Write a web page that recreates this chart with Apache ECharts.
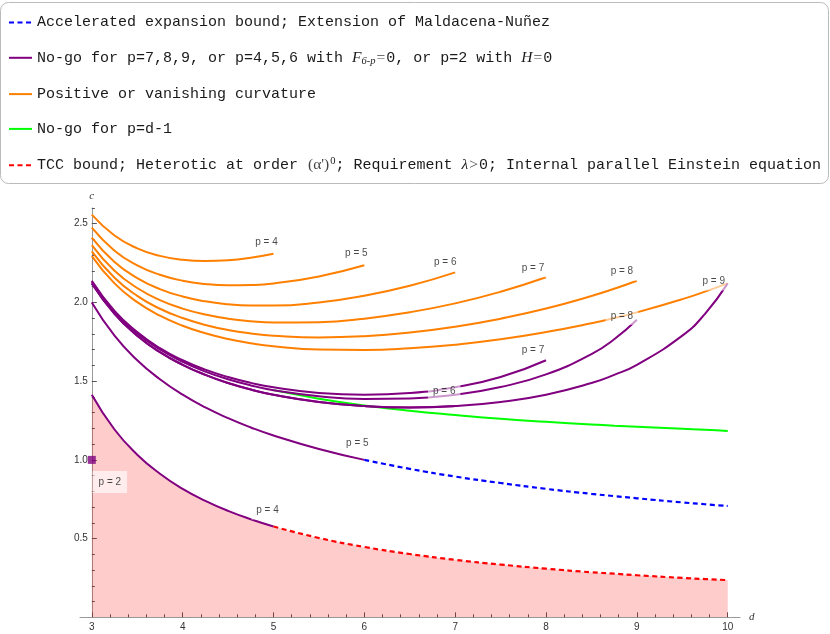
<!DOCTYPE html>
<html><head><meta charset="utf-8">
<script src="https://cdn.jsdelivr.net/npm/echarts@6.0.0/dist/echarts.min.js"></script>
<style>html,body{margin:0;padding:0;background:#fff}#chart{width:830px;height:634px}</style>
</head><body><div id="chart"></div>
<script>
// ---- data (d = dimension, c = bound) ----
const dGrid = [3,3.25,3.5,3.75,4,4.25,4.5,4.75,5,5.5,6,6.5,7,7.5,8,8.5,8.75,9,9.5,9.75,10];
const tccBound   = [1.414,1.193,1.033,0.912,0.816,0.740,0.676,0.623,0.577,0.504,0.447,0.402,0.365,0.335,0.309,0.286,0.277,0.267,0.250,0.243,0.236];
const accelBound = [2.000,1.789,1.633,1.512,1.414,1.333,1.265,1.206,1.155,1.069,1.000,0.943,0.894,0.853,0.816,0.784,0.770,0.756,0.730,0.718,0.707];
const nogoP6P9   = [2.121,1.928,1.789,1.684,1.604,1.540,1.488,1.447,1.414,1.368,1.342,1.333,1.342,1.368,1.414,1.488,1.540,1.604,1.789,1.928,2.121];
const nogoP7     = [2.138,1.947,1.812,1.710,1.633,1.573,1.526,1.489,1.461,1.425,1.414,1.425,1.461,1.526,1.633];
const nogoP8     = [2.132,1.940,1.803,1.701,1.622,1.561,1.512,1.473,1.443,1.404,1.387,1.390,1.414,1.463,1.543,1.672,1.766,1.890];
const nogoPdm1   = [null,null,null,null,null,null,null,null,1.443,1.389,1.346,1.312,1.285,1.261,1.242,1.225,1.217,1.210,1.197,1.191,1.183];
const curvP4 = [2.558,2.425,2.344,2.296,2.271,2.263,2.268,2.284,2.309];
const curvP5 = [2.475,2.329,2.236,2.176,2.138,2.117,2.109,2.111,2.121,2.165,2.236];
const curvP6 = [2.412,2.257,2.155,2.085,2.038,2.007,1.989,1.981,1.980,2.000,2.043,2.106,2.191];
const curvP7 = [2.364,2.201,2.092,2.015,1.961,1.923,1.897,1.881,1.873,1.875,1.897,1.938,1.994,2.068,2.160];
const curvP8 = [2.325,2.157,2.042,1.960,1.901,1.857,1.825,1.803,1.789,1.778,1.786,1.809,1.846,1.897,1.961,2.041,2.087,2.138];
const curvP9 = [2.294,2.121,2.002,1.916,1.852,1.804,1.768,1.741,1.722,1.701,1.698,1.709,1.732,1.766,1.812,1.868,1.901,1.937,2.021,2.069,2.121];
const p2Point = [3, 1.0];
const curvLabels = ['p = 4','p = 5','p = 6','p = 7','p = 8','p = 9'];
const nogoLabels = ['p = 4','p = 5','p = 6','p = 7','p = 8'];
const p2Label = 'p = 2';
const xTicks = [3,4,5,6,7,8,9,10];
const xMinorTicks = [3.2,3.4,3.6,3.8,4.2,4.4,4.6,4.8,5.2,5.4,5.6,5.8,6.2,6.4,6.6,6.8,7.2,7.4,7.6,7.8,8.2,8.4,8.6,8.8,9.2,9.4,9.6,9.8];
const yTicks = [0.5,1.0,1.5,2.0,2.5];
const yMinorTicks = [0.1,0.2,0.3,0.4,0.6,0.7,0.8,0.9,1.1,1.2,1.3,1.4,1.6,1.7,1.8,1.9,2.1,2.2,2.3,2.4,2.6];

const LEG_ACCEL = 'Accelerated expansion bound; Extension of Maldacena-Nuñez';
const LEG_NOGO  = 'No-go for p=7,8,9, or p=4,5,6 with F6-p=0, or p=2 with H=0';
const LEG_CURV  = 'Positive or vanishing curvature';
const LEG_PD1   = 'No-go for p=d-1';
const LEG_TCC   = "TCC bound; Heterotic at order (α')0; Requirement λ>0; Internal parallel Einstein equation";
const legendRichText = {};
legendRichText[LEG_ACCEL] = '{m|Accelerated expansion bound; Extension of Maldacena-Nuñez}';
legendRichText[LEG_NOGO]  = '{m|No-go for p=7,8,9, or p=4,5,6 with }{it|F}{sub|6-p}{s|=}{m|0, or p=2 with }{it|H}{s|=}{m|0}';
legendRichText[LEG_CURV]  = '{m|Positive or vanishing curvature}';
legendRichText[LEG_PD1]   = '{m|No-go for p=d-1}';
legendRichText[LEG_TCC]   = "{m|TCC bound; Heterotic at order }{s|(α')}{sup|0}{m|; Requirement }{it|λ}{s|>}{m|0; Internal parallel Einstein equation}";

// ---- styles ----
const ORANGE = '#ff8000', PURPLE = '#800080', GREEN = '#00ff00', BLUE = '#0000ff', RED = '#ff0000';
const curvLabelOffsets = [[-7,-12],[-8,-12],[-10,-10],[-13,-9],[-15,-9],[-14,-2]];
const nogoLabelOffsets = [[-6,-16],[-7,-17],[-11,-15],[-13,-10],[-15,-4]];
const p2LabelOffset = [18,22];

function seg(arr, from, to) {
  const out = [];
  for (let i = from; i <= to; i++) if (arr[i] != null) out.push([dGrid[i], arr[i]]);
  return out;
}
function lineSeries(name, data, color, z, dashed) {
  return {
    type: 'line', name: name, data: data, symbol: 'none', smooth: true,
    xAxisIndex: 0, yAxisIndex: 0, z: z, silent: true,
    lineStyle: { color: color, width: dashed ? 2.2 : 2, type: dashed ? [5, 3.5] : 'solid' },
    itemStyle: { color: color }
  };
}

const curvArrays = [curvP4, curvP5, curvP6, curvP7, curvP8, curvP9];
const nogoSegs = [seg(tccBound,0,8), seg(accelBound,0,10), seg(nogoP6P9,0,12), seg(nogoP7,0,14), seg(nogoP8,0,17), seg(nogoP6P9,0,20)];

const series = [];
series.push({
  type: 'line', data: seg(tccBound,0,20), symbol: 'none', smooth: true, z: 1, silent: true,
  lineStyle: { width: 0 }, areaStyle: { color: 'rgba(255,0,0,0.2)', opacity: 1 }
});
curvArrays.forEach(a => series.push(lineSeries(LEG_CURV, seg(a, 0, a.length - 1), ORANGE, 2)));
series.push(lineSeries(LEG_PD1, seg(nogoPdm1, 8, 20), GREEN, 3));
nogoSegs.forEach(s => series.push(lineSeries(LEG_NOGO, s, PURPLE, 4)));
series.push(lineSeries(LEG_ACCEL, seg(accelBound, 10, 20), BLUE, 5, true));
series.push(lineSeries(LEG_TCC, seg(tccBound, 8, 20), RED, 5, true));
series.push({
  type: 'scatter', data: [p2Point], symbol: 'rect', symbolSize: 8, z: 6, silent: true,
  itemStyle: { color: PURPLE }
});

const labelBase = {
  show: true, position: 'inside', color: '#1a1a1a', fontSize: 10, fontFamily: 'Liberation Sans',
  backgroundColor: 'rgba(255,255,255,0.75)', padding: [4, 5]
};
const labelItems = [];
curvArrays.forEach((a, i) => {
  const last = a.length - 1;
  labelItems.push({ value: [dGrid[last], a[last]], label: Object.assign({}, labelBase, { formatter: curvLabels[i], offset: curvLabelOffsets[i] }) });
});
nogoSegs.slice(0, 5).forEach((s, i) => {
  const end = s[s.length - 1];
  labelItems.push({ value: end, label: Object.assign({}, labelBase, { formatter: nogoLabels[i], offset: nogoLabelOffsets[i] }) });
});
labelItems.push({ value: p2Point, label: Object.assign({}, labelBase, { formatter: p2Label, offset: p2LabelOffset, padding: [6, 6], backgroundColor: 'rgba(255,255,255,0.8)' }) });
series.push({
  type: 'scatter', data: labelItems, symbolSize: 1, z: 10, silent: true,
  itemStyle: { color: 'rgba(0,0,0,0)' }
});

const AXIS_COLOR = '#999', TICK_COLOR = '#555';
const tickLabelStyle = { color: '#333', fontSize: 10, fontFamily: 'Liberation Sans' };
const X_MIN = 2.87, X_MAX = 10.135;

const chart = echarts.init(document.getElementById('chart'));
chart.setOption({
  animation: false,
  backgroundColor: '#fff',
  graphic: [{
    type: 'rect', z: 0, silent: true,
    shape: { x: 0.5, y: 2.5, width: 828, height: 181, r: 8 },
    style: { fill: '#fff', stroke: '#bbb', lineWidth: 1 }
  }],
  legend: {
    show: true, orient: 'vertical', left: 1, top: 2, z: 5,
    padding: [13, 6, 10, 7], itemGap: 19.8, itemWidth: 23, itemHeight: 14,
    data: [LEG_ACCEL, LEG_NOGO, LEG_CURV, LEG_PD1, LEG_TCC],
    selectedMode: false,
    itemStyle: { opacity: 0 },
    formatter: name => legendRichText[name],
    textStyle: {
      rich: {
        m: { fontFamily: 'Liberation Mono', fontSize: 15, color: '#1a1a1a', lineHeight: 18 },
        it: { fontFamily: 'Liberation Serif', fontStyle: 'italic', fontSize: 15.5, color: '#1a1a1a', lineHeight: 18 },
        s: { fontFamily: 'Liberation Serif', fontSize: 15.5, color: '#444', lineHeight: 18, padding: [0, 1, 0, 1] },
        sub: { fontFamily: 'Liberation Serif', fontStyle: 'italic', fontSize: 10.5, color: '#1a1a1a', lineHeight: 10, verticalAlign: 'bottom' },
        sup: { fontFamily: 'Liberation Serif', fontSize: 10.5, color: '#1a1a1a', lineHeight: 10, verticalAlign: 'top' }
      }
    }
  },
  grid: { left: 80, right: 90, top: 208, bottom: 16.7, containLabel: false },
  xAxis: [{
    type: 'value', min: X_MIN, max: X_MAX, name: 'd', nameLocation: 'end', nameGap: 9,
    nameTextStyle: { fontStyle: 'italic', fontSize: 11, color: '#333', fontFamily: 'Liberation Serif', verticalAlign: 'middle' },
    axisLine: { show: true, onZero: false, lineStyle: { color: AXIS_COLOR, width: 1 } },
    axisTick: { show: true, inside: true, length: 5, customValues: xTicks, lineStyle: { color: TICK_COLOR } },
    axisLabel: Object.assign({ show: true, margin: 5, customValues: xTicks }, tickLabelStyle),
    splitLine: { show: false }
  }, {
    type: 'value', min: X_MIN, max: X_MAX, position: 'bottom',
    axisLine: { show: false, onZero: false },
    axisTick: { show: true, inside: true, length: 3, customValues: xMinorTicks, lineStyle: { color: TICK_COLOR } },
    axisLabel: { show: false }, splitLine: { show: false }
  }],
  yAxis: [{
    type: 'value', min: 0, max: 2.6, offset: -11.8, name: 'c', nameLocation: 'end', nameGap: 6,
    nameTextStyle: { fontStyle: 'italic', fontSize: 11, color: '#333', fontFamily: 'Liberation Serif', align: 'center' },
    axisLine: { show: true, onZero: false, lineStyle: { color: AXIS_COLOR, width: 1 } },
    axisTick: { show: true, inside: true, length: 5, customValues: yTicks, lineStyle: { color: TICK_COLOR } },
    axisLabel: Object.assign({ show: true, margin: 4, customValues: yTicks, formatter: v => v.toFixed(1) }, tickLabelStyle),
    splitLine: { show: false }
  }, {
    type: 'value', min: 0, max: 2.6, offset: -11.8, position: 'left',
    axisLine: { show: false, onZero: false },
    axisTick: { show: true, inside: true, length: 3, customValues: yMinorTicks, lineStyle: { color: TICK_COLOR } },
    axisLabel: { show: false }, splitLine: { show: false }
  }],
  series: series
});
</script>
</body></html>
